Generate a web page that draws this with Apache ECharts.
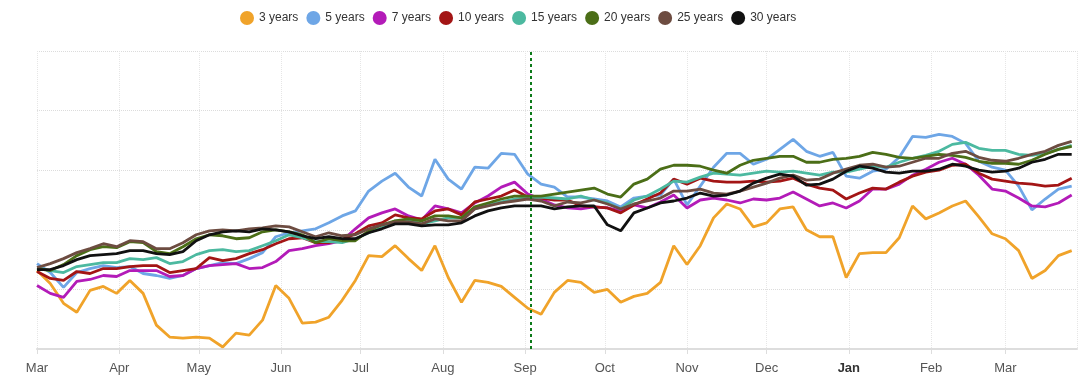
<!DOCTYPE html>
<html>
<head>
<meta charset="utf-8">
<script src="https://cdn.jsdelivr.net/npm/echarts@6/dist/echarts.min.js"></script>
<style>html,body{margin:0;padding:0;background:#fff}#c{width:1092px;height:387px}</style>
</head>
<body>
<div id="c"></div>
<script>
// Observation dates (every 5 days)
const dates = [
'2022-03-01','2022-03-06','2022-03-11','2022-03-16','2022-03-21','2022-03-26','2022-03-31','2022-04-05','2022-04-10','2022-04-15',
'2022-04-20','2022-04-25','2022-04-30','2022-05-05','2022-05-10','2022-05-15','2022-05-20','2022-05-25','2022-05-30','2022-06-04',
'2022-06-09','2022-06-14','2022-06-19','2022-06-24','2022-06-29','2022-07-04','2022-07-09','2022-07-14','2022-07-19','2022-07-24',
'2022-07-29','2022-08-03','2022-08-08','2022-08-13','2022-08-18','2022-08-23','2022-08-28','2022-09-02','2022-09-07','2022-09-12',
'2022-09-17','2022-09-22','2022-09-27','2022-10-02','2022-10-07','2022-10-12','2022-10-17','2022-10-22','2022-10-27','2022-11-01',
'2022-11-06','2022-11-11','2022-11-16','2022-11-21','2022-11-26','2022-12-01','2022-12-06','2022-12-11','2022-12-16','2022-12-21',
'2022-12-26','2022-12-31','2023-01-05','2023-01-10','2023-01-15','2023-01-20','2023-01-25','2023-01-30','2023-02-04','2023-02-09',
'2023-02-14','2023-02-19','2023-02-24','2023-03-01','2023-03-06','2023-03-11','2023-03-16','2023-03-21','2023-03-26'
];
const seriesNames = ['3 years','5 years','7 years','10 years','15 years','20 years','25 years','30 years'];
const seriesColors = ['#f0a32a','#6ea6e6','#b31bb8','#a31515','#4cb9a0','#4b6e17','#6d4c41','#111111'];
const monthLabels = ['Jan','Feb','Mar','Apr','May','Jun','Jul','Aug','Sep','Oct','Nov','Dec'];
const markerDate = '2022-09-03';

const y3 = [79,66,46,37,59,63,56,69,56,24, 12,11,12,11,2,16,14,29,64,51, 26,27,32,49,69,94,93,104,91,79, 104,72,47,69,67,63,52,41,35,57, 69,67,57,60,47,53,56,67,104,85, 104,132,146,141,123,127,141,143,120,113, 113,72,96,97,97,112,144,131,137,144, 149,133,116,111,99,71,79,94,99];
const y5 = [86,77,62,77,81,84,82,83,76,74, 71,74,81,84,87,86,91,97,113,117, 119,121,127,134,139,159,169,177,163,154, 191,171,161,183,182,197,196,176,166,163, 153,153,151,149,143,152,154,155,171,145, 164,183,197,197,186,191,201,211,199,194, 198,174,172,179,181,193,214,213,216,214, 207,189,183,180,164,140,151,161,164];
const y7 = [64,56,52,68,70,74,73,79,79,79, 73,74,81,84,85,86,81,82,88,99, 101,104,106,109,121,132,137,141,134,130, 144,141,137,147,154,163,168,156,151,145, 142,141,143,142,139,145,142,148,155,142, 150,152,150,147,151,150,152,158,151,144, 147,142,149,161,161,166,175,181,188,192, 186,175,161,159,152,144,143,147,155];
const y10 = [78,71,69,78,76,81,81,83,84,84, 77,79,81,92,89,91,96,100,106,111, 112,107,107,110,116,124,127,135,132,131, 139,141,135,148,151,154,160,153,152,150, 150,144,143,142,137,145,151,157,171,166, 172,169,168,168,169,168,169,172,166,162, 160,151,157,162,161,168,174,178,180,185, 186,177,171,169,167,166,164,165,172];
const y15 = [82,79,77,83,85,87,87,91,90,92, 86,88,95,99,100,98,99,104,109,115, 112,108,108,107,111,117,122,129,130,126, 129,132,132,141,145,148,151,152,153,152, 151,154,150,147,141,150,154,161,169,168, 173,177,176,175,177,179,178,179,177,175, 178,178,181,184,183,188,192,195,199,206, 208,202,200,200,196,195,197,201,205];
const y20 = [81,79,85,94,100,103,102,108,107,98, 96,103,111,115,114,111,112,118,120,118, 115,107,111,109,109,119,125,129,131,129, 134,134,132,143,147,151,154,154,154,156, 158,160,162,156,153,166,171,181,185,185, 184,180,177,185,190,192,194,194,188,188, 191,192,194,198,196,193,192,194,196,195, 193,189,187,187,186,190,196,201,204];
const y25 = [82,86,91,97,101,106,103,109,108,101, 101,107,115,119,120,119,121,122,124,123, 118,113,117,114,115,121,125,128,128,126, 131,129,129,141,144,147,149,151,149,144, 148,147,150,146,141,146,149,152,159,159, 161,157,156,159,163,167,172,175,170,171, 177,181,185,186,183,184,188,192,192,197, 199,193,190,189,192,196,199,205,209];
const y30 = [80,80,84,90,94,95,96,99,99,96, 95,98,109,115,118,119,118,121,120,118, 114,111,113,111,111,117,121,126,126,124, 125,125,127,134,139,142,144,144,144,141, 143,144,144,125,119,137,142,147,149,152, 157,154,155,159,167,172,176,174,165,166, 171,179,184,182,178,177,179,179,181,186, 184,180,178,179,182,188,191,196,196];

const allValues = [y3,y5,y7,y10,y15,y20,y25,y30];
const DAY = 86400000;

const chart = echarts.init(document.getElementById('c'), null, {renderer: 'canvas'});
const series = seriesNames.map((name, k) => {
  const s = {
    name: name,
    type: 'line',
    showSymbol: false,
    symbol: 'none',
    smooth: false,
    color: seriesColors[k],
    lineStyle: {width: 2.8, color: seriesColors[k]},
    data: dates.map((d, i) => [d, allValues[k][i]])
  };
  if (k === 0) {
    s.markLine = {
      silent: true,
      symbol: ['none', 'none'],
      label: {show: false},
      lineStyle: {color: '#0d7a1a', type: [3, 3], width: 2},
      data: [{xAxis: markerDate}]
    };
  }
  return s;
});

chart.setOption({
  animation: false,
  legend: {
    top: 11, left: 240, padding: 0,
    icon: 'circle', itemWidth: 14, itemHeight: 14, itemGap: 8,
    textStyle: {fontSize: 12, color: '#333', fontFamily: 'Liberation Sans, Arial, sans-serif'},
    data: seriesNames
  },
  grid: {left: 37, right: 15, top: 51, bottom: 38},
  xAxis: {
    type: 'time',
    min: '2022-03-01', max: '2023-03-28',
    splitNumber: 13,
    minInterval: 28 * DAY, maxInterval: 31 * DAY,
    axisLine: {lineStyle: {color: '#dddddd', width: 2}},
    axisTick: {show: true, length: 5, lineStyle: {color: '#dddddd'}},
    axisLabel: {
      color: '#555', fontSize: 13, margin: 13,
      fontFamily: 'Liberation Sans, Arial, sans-serif',
      hideOverlap: false,
      formatter: function (value) {
        const d = new Date(value);
        const m = monthLabels[d.getMonth()];
        return d.getMonth() === 0 ? '{b|' + m + '}' : m;
      },
      rich: {b: {fontWeight: 'bold', color: '#333', fontSize: 13, fontFamily: 'Liberation Sans, Arial, sans-serif'}}
    },
    splitLine: {show: true, lineStyle: {color: '#e6e6e6', type: 'dotted', width: 1}}
  },
  yAxis: {
    type: 'value', min: 0, max: 300, interval: 60,
    axisLabel: {show: false}, axisLine: {show: false}, axisTick: {show: false},
    splitLine: {show: true, lineStyle: {color: '#dcdcdc', type: 'dotted', width: 1}}
  },
  series: series
});
</script>
</body>
</html>
